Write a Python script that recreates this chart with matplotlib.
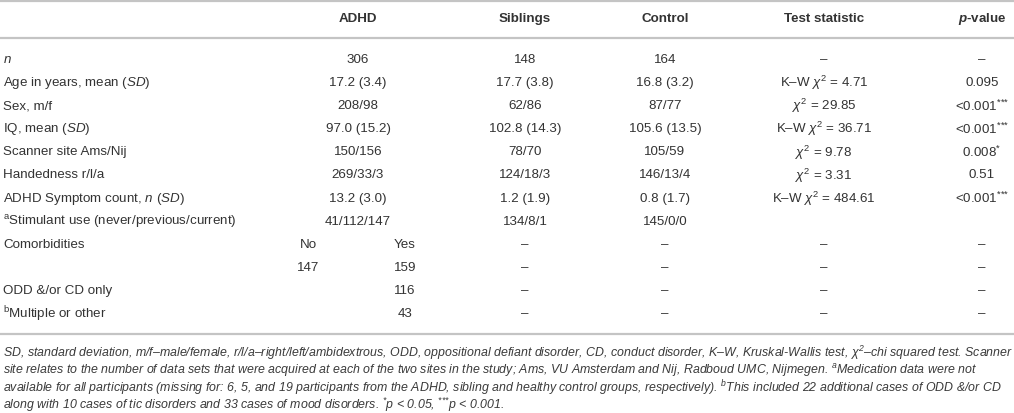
import matplotlib
matplotlib.use("Agg")
import matplotlib.pyplot as plt

plt.rcParams['font.family'] = ['Liberation Sans', 'DejaVu Sans']
plt.rcParams['mathtext.fontset'] = 'custom'
plt.rcParams['mathtext.rm'] = 'Liberation Sans'
plt.rcParams['mathtext.it'] = 'Liberation Sans:italic'
plt.rcParams['mathtext.bf'] = 'Liberation Sans:bold'
plt.rcParams['mathtext.bfit'] = 'Liberation Sans:bold:italic'
plt.rcParams['mathtext.default'] = 'regular'

# table content
col_headers = ['ADHD', 'Siblings', 'Control', 'Test statistic', r'$\mathbfit{p}$-value']
row_labels = [
    r'$\mathit{n}$',
    r'Age in years, mean ($\mathit{SD}$)',
    'Sex, m/f',
    r'IQ, mean ($\mathit{SD}$)',
    'Scanner site Ams/Nij',
    'Handedness r/l/a',
    r'ADHD Symptom count, $\mathit{n\ (SD)}$',
    r'$^{a}$Stimulant use (never/previous/current)',
    'Comorbidities',
    '',
    'ODD &/or CD only',
    r'$^{b}$Multiple or other',
]
adhd = ['306', '17.2 (3.4)', '208/98', '97.0 (15.2)', '150/156', '269/33/3',
        '13.2 (3.0)', '41/112/147']
# comorbidity sub-columns of the ADHD group (No / Yes)
comorb_no = ['No', '147', '', '']
comorb_yes = ['Yes', '159', '116', '43']
siblings = ['148', '17.7 (3.8)', '62/86', '102.8 (14.3)', '78/70', '124/18/3',
            '1.2 (1.9)', '134/8/1', '–', '–', '–', '–']
control = ['164', '16.8 (3.2)', '87/77', '105.6 (13.5)', '105/59', '146/13/4',
           '0.8 (1.7)', '145/0/0', '–', '–', '–', '–']
chi = r'$\mathit{\chi}^2$'
test_stat = ['–', 'K–W ' + chi + ' = 4.71', chi + ' = 29.85', 'K–W ' + chi + ' = 36.71',
             chi + ' = 9.78', chi + ' = 3.31', 'K–W ' + chi + ' = 484.61', '',
             '–', '–', '–', '–']
three = r'$^{{*}{*}{*}}$'
p_values = ['–', '0.095', '<0.001' + three, '<0.001' + three, r'0.008$^{*}$', '0.51',
            '<0.001' + three, '', '–', '–', '–', '–']

footnote = [
    'SD, standard deviation, m/f–male/female, r/l/a–right/left/ambidextrous, ODD, oppositional defiant disorder, CD, conduct disorder, K–W, Kruskal-Wallis test, ' + chi + '–chi squared test. Scanner',
    r'site relates to the number of data sets that were acquired at each of the two sites in the study; Ams, VU Amsterdam and Nij, Radboud UMC, Nijmegen. $^{\mathit{a}}$Medication data were not',
    r'available for all participants (missing for: 6, 5, and 19 participants from the ADHD, sibling and healthy control groups, respectively). $^{\mathit{b}}$This included 22 additional cases of ODD &/or CD',
    r'along with 10 cases of tic disorders and 33 cases of mood disorders. $^{*}$p < 0.05, ' + three + 'p < 0.001.',
]

W, H = 1014, 414
fig = plt.figure(figsize=(W / 100, H / 100), dpi=100)
ax = fig.add_axes([0, 0, 1, 1])
ax.set_xlim(0, W)
ax.set_ylim(H, 0)
ax.axis('off')

txt = '#333333'
rule = '#c4c4c4'
fs = 9.6

col_x = [358, 525, 665, 824, 982]
no_x, yes_x = 308, 405
label_x = 3
header_y = 19
row_y0, row_dy = 60, 23.1

for y in (2, 38.5):
    ax.axhline(y, color=rule, lw=1.6)

for x, h in zip(col_x, col_headers):
    ax.text(x, header_y, h, ha='center', va='center', fontsize=fs,
            fontweight='bold', color=txt)

for i, lab in enumerate(row_labels):
    y = row_y0 + i * row_dy
    ax.text(label_x, y, lab, ha='left', va='center', fontsize=fs, color=txt)
    if i < len(adhd):
        ax.text(col_x[0], y, adhd[i], ha='center', va='center', fontsize=fs, color=txt)
    else:
        j = i - len(adhd)
        ax.text(no_x, y, comorb_no[j], ha='center', va='center', fontsize=fs, color=txt)
        ax.text(yes_x, y, comorb_yes[j], ha='center', va='center', fontsize=fs, color=txt)
    for x, vals in zip(col_x[1:], (siblings, control, test_stat, p_values)):
        ax.text(x, y, vals[i], ha='center', va='center', fontsize=fs, color=txt)

bottom_rule = 334.5
ax.axhline(bottom_rule, color=rule, lw=1.6)

for k, line in enumerate(footnote):
    ax.text(label_x, 353 + k * 17.4, line, ha='left', va='center',
            fontsize=8.95, style='italic', color='#3a3a3a')

fig.savefig('out.png', dpi=100)
